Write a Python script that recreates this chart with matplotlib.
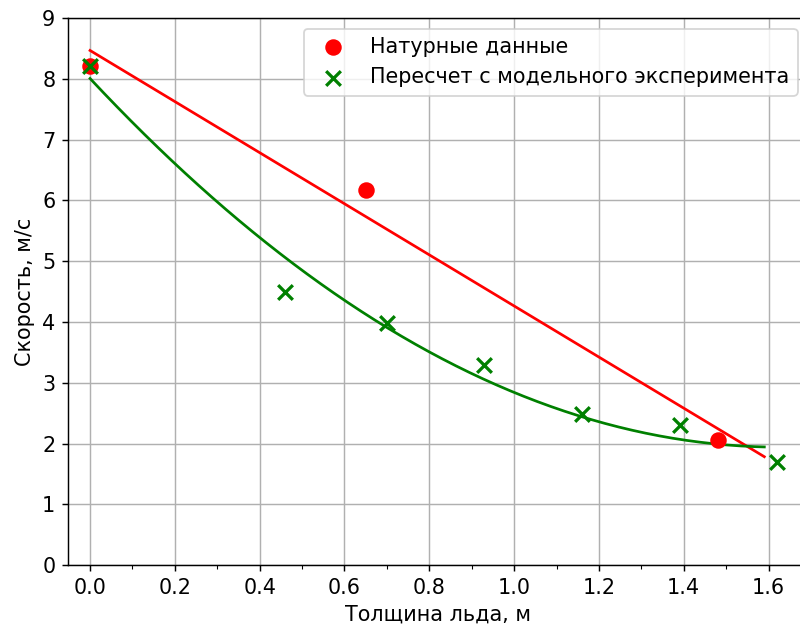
import numpy as np
import matplotlib
matplotlib.use("Agg")
import matplotlib.pyplot as plt
from matplotlib.ticker import MultipleLocator

# Field data
x_nat = [0.0, 0.65, 1.48]
y_nat = [8.22, 6.18, 2.05]

# Recalculated from model experiment
x_mod = [0.0, 0.46, 0.70, 0.93, 1.16, 1.39, 1.62]
y_mod = [8.22, 4.50, 3.98, 3.30, 2.48, 2.30, 1.70]

fit_x_max = 1.59

plt.rcParams["font.size"] = 11.5

DPI = 130
fig = plt.figure(figsize=(800 / DPI, 628 / DPI), dpi=DPI)
ax = fig.add_axes([0.085, 0.1003, 0.925, 0.8707])

xx = np.linspace(0.0, fit_x_max, 200)
p1 = np.polyfit(x_nat, y_nat, 1)
p2 = np.polyfit(x_mod, y_mod, 2)

ax.scatter(x_nat, y_nat, color="red", s=66, label="Натурные данные", zorder=3)
ax.scatter(x_mod, y_mod, color="green", marker="x", s=66, linewidths=1.8,
           label="Пересчет с модельного эксперимента", zorder=3)
ax.plot(xx, np.polyval(p1, xx), color="red", lw=1.5, zorder=2)
ax.plot(xx, np.polyval(p2, xx), color="green", lw=1.5, zorder=2)

ax.set_xlim(-0.052, 1.693)
ax.set_ylim(0, 9)
ax.xaxis.set_major_locator(MultipleLocator(0.2))
ax.xaxis.set_minor_locator(MultipleLocator(0.1))
ax.yaxis.set_major_locator(MultipleLocator(1))
ax.grid(True, which="major", color="#b0b0b0", lw=0.8)
ax.set_axisbelow(True)

ax.set_xlabel("Толщина льда, м")
ax.set_ylabel("Скорость, м/с")
ax.legend(loc="upper right")

fig.savefig("out.png", dpi=DPI)
